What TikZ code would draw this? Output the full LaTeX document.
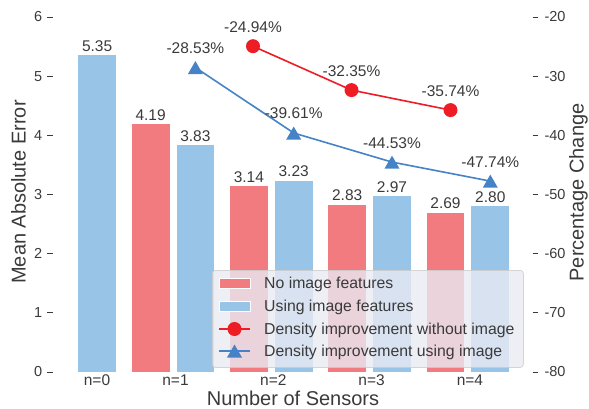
\documentclass[tikz,border=0pt]{standalone}
\usepackage{fontspec}
\setmainfont{Liberation Sans}
\usetikzlibrary{shapes.geometric}
\definecolor{barred}{HTML}{F27B7F}
\definecolor{barblue}{HTML}{98C4E8}
\definecolor{linered}{HTML}{EE1C24}
\definecolor{lineblue}{HTML}{4682C6}
\definecolor{txt}{HTML}{3A3A3A}
\definecolor{legbg}{HTML}{EAEAF2}
\definecolor{legedge}{HTML}{CCCCCC}
\begin{document}
\begin{tikzpicture}[x=1pt,y=-1pt,
  redbar/.style={fill=barred, draw=none, inner sep=0pt, outer sep=0pt, minimum width=37.8pt, minimum height=#1*59.17, anchor=south},
  bluebar/.style={fill=barblue, draw=none, inner sep=0pt, outer sep=0pt, minimum width=37.8pt, minimum height=#1*59.17, anchor=south},
  val/.style={anchor=base, inner sep=0pt, text=txt, font=\fontsize{15.5}{18}\selectfont},
  pct/.style={anchor=base, inner sep=0pt, text=txt, font=\fontsize{15.5}{18}\selectfont},
  ylab/.style={inner sep=0pt, text=txt, font=\fontsize{14.5}{17}\selectfont},
  xlab/.style={anchor=base, inner sep=0pt, text=txt, font=\fontsize{15.5}{18}\selectfont},
  axlab/.style={inner sep=0pt, text=txt, font=\fontsize{20}{24}\selectfont},
  tickmark/.style={draw=txt, line width=0.9pt},
  redline/.style={draw=linered, line width=1.6pt},
  blueline/.style={draw=lineblue, line width=1.6pt},
  redmark/.style={circle, fill=linered, draw=none, minimum size=14pt, inner sep=0pt},
  bluemark/.style={regular polygon, regular polygon sides=3, fill=lineblue, draw=none, minimum size=17.3pt, inner sep=0pt, yshift=-2.2pt},
  legtext/.style={anchor=base west, inner sep=0pt, text=txt, font=\fontsize{15.8}{19}\selectfont},
  legpatch/.style={draw=white, line width=0.6pt, minimum width=31pt, minimum height=10pt, inner sep=0pt}
]
\useasboundingbox (0,0) rectangle (589,409);

% left axis ticks
\foreach \v in {0,...,6}{
  \coordinate (lt\v a) at (47,{372-\v*59.17});
  \coordinate (lt\v b) at (53,{372-\v*59.17});
  \draw[tickmark] (lt\v a) -- (lt\v b);
  \node[ylab, anchor=east] (ltl\v) at (42.5,{372-\v*59.17}) {\v};
}
% right axis ticks
\foreach \p [count=\i] in {-80,-70,-60,-50,-40,-30,-20}{
  \coordinate (rt\i a) at (532.7,{372-(\p+80)*5.917});
  \coordinate (rt\i b) at (538.3,{372-(\p+80)*5.917});
  \draw[tickmark] (rt\i a) -- (rt\i b);
  \node[ylab, anchor=west] (rtl\i) at (544.3,{372-(\p+80)*5.917}) {\p};
}

% bars
\node[bluebar=5.35] (b0) at (97.1,372) {};
\node[redbar=4.19]  (r1) at (150.6,372) {};
\node[bluebar=3.83] (b1) at (195.4,372) {};
\node[redbar=3.14]  (r2) at (248.9,372) {};
\node[bluebar=3.23] (b2) at (293.7,372) {};
\node[redbar=2.83]  (r3) at (347.2,372) {};
\node[bluebar=2.97] (b3) at (392.0,372) {};
\node[redbar=2.69]  (r4) at (445.5,372) {};
\node[bluebar=2.80] (b4) at (490.3,372) {};

% bar values
\node[val] (vb0) at ([yshift=4pt]b0.north) {5.35};
\node[val] (vr1) at ([yshift=4pt]r1.north) {4.19};
\node[val] (vb1) at ([yshift=4pt]b1.north) {3.83};
\node[val] (vr2) at ([yshift=4pt]r2.north) {3.14};
\node[val] (vb2) at ([yshift=4pt]b2.north) {3.23};
\node[val] (vr3) at ([yshift=4pt]r3.north) {2.83};
\node[val] (vb3) at ([yshift=4pt]b3.north) {2.97};
\node[val] (vr4) at ([yshift=4pt]r4.north) {2.69};
\node[val] (vb4) at ([yshift=4pt]b4.north) {2.80};

% x tick labels
\node[xlab] (x0) at (97,385) {n=0};
\node[xlab] (x1) at (175.5,385) {n=1};
\node[xlab] (x2) at (273.3,385) {n=2};
\node[xlab] (x3) at (371.6,385) {n=3};
\node[xlab] (x4) at (469.9,385) {n=4};

% axis labels
\node[axlab, anchor=base] (xt) at (293,405) {Number of Sensors};
\node[axlab, anchor=base, rotate=90] (yl) at (25.5,192) {Mean Absolute Error};
\node[axlab, anchor=base, rotate=90] (yr) at (583.5,192.5) {Percentage Change};

% lines
\coordinate (pr2) at (253,46.2);
\coordinate (pr3) at (351.5,90.1);
\coordinate (pr4) at (450.5,110.1);
\coordinate (pb1) at (195.4,67.5);
\coordinate (pb2) at (293.7,133.0);
\coordinate (pb3) at (392.0,162.1);
\coordinate (pb4) at (490.3,181.1);
\draw[redline] (pr2) -- (pr3) -- (pr4);
\draw[blueline] (pb1) -- (pb2) -- (pb3) -- (pb4);
\node[redmark] (mr2) at (pr2) {};
\node[redmark] (mr3) at (pr3) {};
\node[redmark] (mr4) at (pr4) {};
\node[bluemark] (mb1) at (pb1) {};
\node[bluemark] (mb2) at (pb2) {};
\node[bluemark] (mb3) at (pb3) {};
\node[bluemark] (mb4) at (pb4) {};

% percentage labels
\node[pct] (tr2) at ([yshift=14pt]pr2) {-24.94\%};
\node[pct] (tr3) at ([yshift=14pt]pr3) {-32.35\%};
\node[pct] (tr4) at ([yshift=14pt]pr4) {-35.74\%};
\node[pct] (tb1) at ([yshift=14pt]pb1) {-28.53\%};
\node[pct] (tb2) at ([yshift=14pt]pb2) {-39.61\%};
\node[pct] (tb3) at ([yshift=14pt]pb3) {-44.53\%};
\node[pct] (tb4) at ([yshift=14pt]pb4) {-47.74\%};

% legend
\node[draw=legedge, draw opacity=0.8, fill=legbg, fill opacity=0.8, rounded corners=3pt, line width=0.8pt,
      minimum width=311pt, minimum height=97pt, inner sep=0pt, anchor=north west] (leg) at (212,270) {};
\node[legpatch, fill=barred] (lp1) at (234.5,283) {};
\node[legpatch, fill=barblue] (lp2) at (234.5,306) {};
\coordinate (l3a) at (219,329);
\coordinate (l3b) at (250,329);
\draw[redline] (l3a) -- (l3b);
\node[redmark] (lm3) at (234.5,329) {};
\coordinate (l4a) at (219,351);
\coordinate (l4b) at (250,351);
\draw[blueline] (l4a) -- (l4b);
\node[bluemark] (lm4) at (234.5,351) {};
\node[legtext] (lt1) at (264,288) {No image features};
\node[legtext] (lt2) at (264,311) {Using image features};
\node[legtext] (lt3) at (264,334) {Density improvement without image};
\node[legtext] (lt4) at (264,356.5) {Density improvement using image};
\end{tikzpicture}
\end{document}
